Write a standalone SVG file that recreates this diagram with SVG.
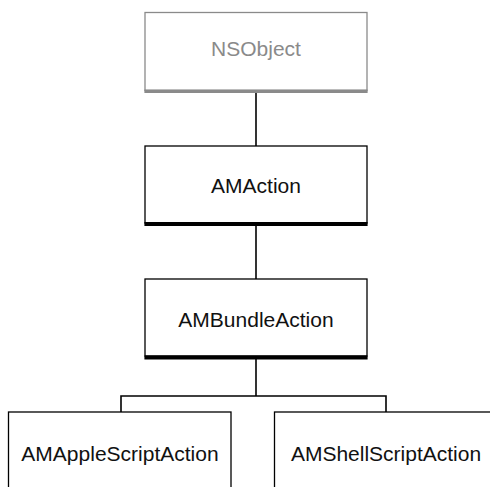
<svg xmlns="http://www.w3.org/2000/svg" width="490" height="487" viewBox="0 0 490 487">
<style>
.box{fill:#fff;stroke:#000;stroke-width:1.3}
.gray .box{stroke:#8a8a8a}
.sh{fill:#000}
.gray .sh{fill:#8a8a8a}
.lbl{font-family:"Liberation Sans",Arial,Helvetica,sans-serif;font-size:21px;fill:#111;text-anchor:middle}
.gray .lbl{fill:#8a8a8a}
.con{fill:none;stroke:#000;stroke-width:1.6}
</style>
<rect width="490" height="487" fill="#fff"/>
<g id="connectors">
<path class="con" d="M256 92V146"/>
<path class="con" d="M256 225V279"/>
<path class="con" d="M256 359V396"/>
<path class="con" d="M121 412V396H386V412"/>
</g>
<g id="NSObject" class="gray">
<rect class="box" x="145" y="12.5" width="222" height="78"/>
<rect class="sh" x="144.4" y="89.5" width="223.2" height="3.5"/>
<text class="lbl" x="256" y="56">NSObject</text>
</g>
<g id="AMAction">
<rect class="box" x="145" y="146" width="222" height="77"/>
<rect class="sh" x="144.4" y="222" width="223.2" height="4"/>
<text class="lbl" x="256" y="193">AMAction</text>
</g>
<g id="AMBundleAction">
<rect class="box" x="145" y="279" width="222" height="77"/>
<rect class="sh" x="144.4" y="355.5" width="223.2" height="4"/>
<text class="lbl" x="256" y="327">AMBundleAction</text>
</g>
<g id="AMAppleScriptAction">
<rect class="box" x="8.5" y="412" width="222.5" height="90"/>
<text class="lbl" x="120" y="461">AMAppleScriptAction</text>
</g>
<g id="AMShellScriptAction">
<rect class="box" x="274.5" y="412" width="223" height="90"/>
<text class="lbl" x="386" y="461">AMShellScriptAction</text>
</g>
</svg>
